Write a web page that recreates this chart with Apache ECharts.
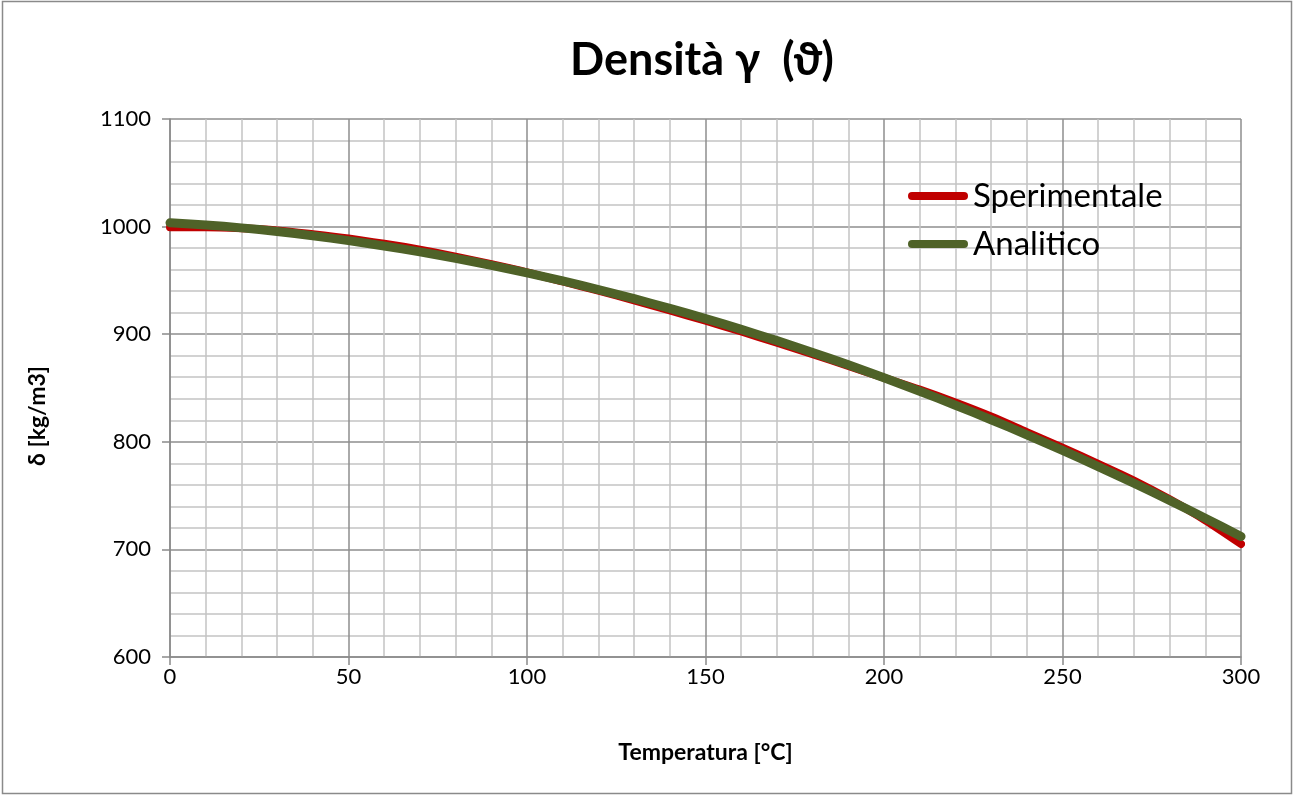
<!DOCTYPE html>
<html>
<head>
<meta charset="utf-8">
<script src="https://cdn.jsdelivr.net/npm/echarts@6/dist/echarts.min.js"></script>
<style>
html,body{margin:0;padding:0;background:#fff;}
#chart{width:1294px;height:796px;}
</style>
</head>
<body>
<div id="chart"></div>
<script>
const temperatures = [0,10,20,30,40,50,60,70,80,90,100,110,120,130,140,150,160,170,180,190,200,210,220,230,240,250,260,270,280,290,300];
const sperimentale = [999.5,999.5,998.5,996.5,993,989,984,978.5,972,965,957.5,949,940.5,931.5,922,912.5,902.5,892,881.5,870.5,859.5,848.5,836.5,823.5,809,794.5,779.5,764,746.5,727,705];
const analitico = [1003.5,1001.5,998.8,995.5,991.5,987,982,976.5,970.5,964,957,949.5,941.5,933,924,914.5,904.5,894,883,871.5,859.5,847,834,820.5,806.5,792,777,761.5,745.5,729,712];
const seriesNames = ['Sperimentale','Analitico'];
const titleText = 'Densità γ  (ϑ)';
const xAxisName = 'Temperatura [°C]';
const yAxisName = 'δ [kg/m3]';

const FONT = 'Lato, "Noto Sans", "DejaVu Sans", sans-serif';
const chart = echarts.init(document.getElementById('chart'), null, {renderer:'canvas'});
const pair = arr => temperatures.map((t,i)=>[t,arr[i]]);
const capsule = 'path://M4,0 H56 A4,4 0 0 1 56,8 H4 A4,4 0 0 1 4,0 Z';

chart.setOption({
  backgroundColor:'#fff',
  animation:false,
  title:{
    text:titleText, left:697, top:33, textAlign:'center',
    textStyle:{fontFamily:FONT, fontSize:45, fontWeight:'bold', color:'#000'}
  },
  grid:{left:170, right:53, top:119, bottom:139, containLabel:false},
  legend:{
    orient:'vertical', left:908, top:179, padding:0, itemWidth:60, itemHeight:8, itemGap:14,
    data:[{name:seriesNames[0], icon:capsule},{name:seriesNames[1], icon:capsule}],
    textStyle:{fontFamily:FONT, fontSize:33, color:'#000', lineHeight:34}
  },
  xAxis:{
    type:'value', min:0, max:300, interval:50,
    name:xAxisName, nameLocation:'middle', nameGap:84,
    nameTextStyle:{fontFamily:FONT, fontSize:23, fontWeight:'bold', color:'#000'},
    axisLine:{show:true, lineStyle:{color:'#8a8a8a', width:1.5}},
    axisTick:{show:true, inside:false, length:8, lineStyle:{color:'#8a8a8a', width:1.5}},
    axisLabel:{fontFamily:FONT, fontSize:22, color:'#000', margin:9},
    splitLine:{show:true, lineStyle:{color:'#8e8e8e', width:1.5}},
    minorTick:{show:false, splitNumber:5},
    minorSplitLine:{show:true, lineStyle:{color:'#c4c4c4', width:1.5}}
  },
  yAxis:{
    type:'value', min:600, max:1100, interval:100,
    axisLine:{show:true, lineStyle:{color:'#8a8a8a', width:1.5}},
    axisTick:{show:true, inside:false, length:8, lineStyle:{color:'#8a8a8a', width:1.5}},
    axisLabel:{fontFamily:FONT, fontSize:22, color:'#000', margin:19, formatter:v=>String(v)},
    splitLine:{show:true, lineStyle:{color:'#8e8e8e', width:1.5}},
    minorTick:{show:false, splitNumber:5},
    minorSplitLine:{show:true, lineStyle:{color:'#c4c4c4', width:1.5}}
  },
  graphic:[
    {type:'rect', silent:true, z:-1, shape:{x:2.5, y:1.5, width:1289, height:792},
     style:{fill:'none', stroke:'#8a8a8a', lineWidth:1.5}},
    {type:'text', silent:true, x:38, y:416, rotation:Math.PI/2,
     style:{text:yAxisName, fontFamily:FONT, fontSize:23, fontWeight:'bold', fill:'#000',
            textAlign:'center', textVerticalAlign:'middle'}}
  ],
  series:[
    {name:seriesNames[0], type:'line', data:pair(sperimentale), smooth:0.3, showSymbol:false,
     color:'#c00000', lineStyle:{color:'#c00000', width:8, cap:'round', join:'round'}, z:2},
    {name:seriesNames[1], type:'line', data:pair(analitico), smooth:0.3, showSymbol:false,
     color:'#4f6228', lineStyle:{color:'#4f6228', width:9, cap:'round', join:'round'}, z:3}
  ]
});
</script>
</body>
</html>
